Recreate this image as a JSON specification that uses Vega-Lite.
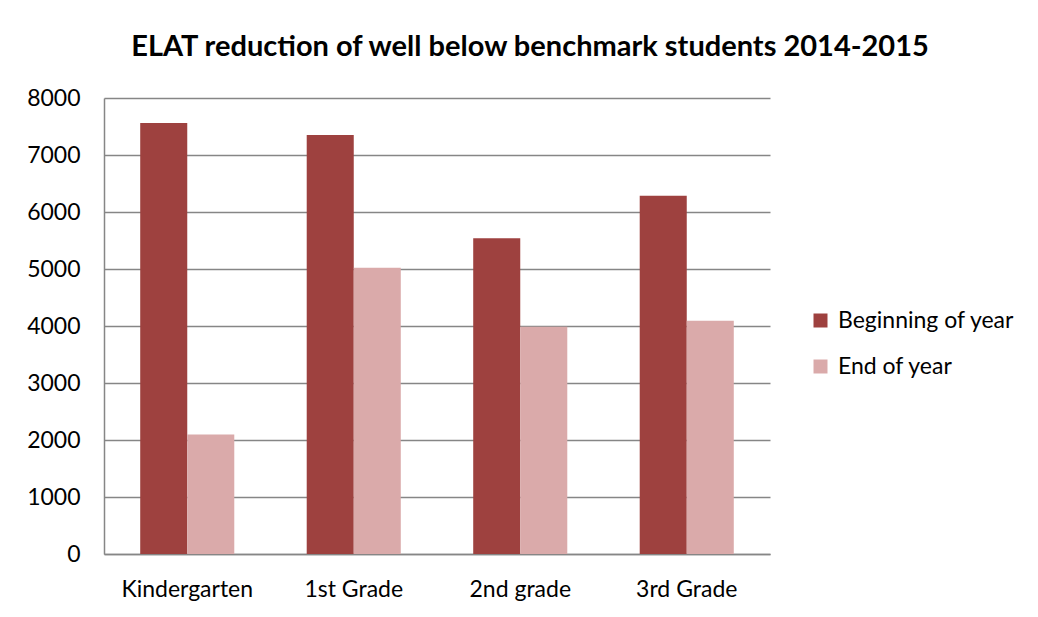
{
  "$schema": "https://vega.github.io/schema/vega-lite/v6.json",
  "autosize": "none",
  "width": 666,
  "height": 456,
  "padding": {"left": 104, "top": 98, "right": 268, "bottom": 63},
  "background": "white",
  "title": {
    "text": "ELAT reduction of well below benchmark students 2014-2015",
    "font": "Lato",
    "fontSize": 29,
    "fontWeight": "bold",
    "color": "#000000",
    "anchor": "middle",
    "dx": 93,
    "offset": 25
  },
  "data": {
    "values": [
      {"grade": "Kindergarten", "period": "Beginning of year", "students": 7560},
      {"grade": "Kindergarten", "period": "End of year", "students": 2095},
      {"grade": "1st Grade", "period": "Beginning of year", "students": 7350},
      {"grade": "1st Grade", "period": "End of year", "students": 5020},
      {"grade": "2nd grade", "period": "Beginning of year", "students": 5540},
      {"grade": "2nd grade", "period": "End of year", "students": 3985},
      {"grade": "3rd Grade", "period": "Beginning of year", "students": 6285},
      {"grade": "3rd Grade", "period": "End of year", "students": 4090}
    ]
  },
  "mark": {"type": "bar"},
  "encoding": {
    "x": {
      "field": "grade",
      "type": "nominal",
      "sort": ["Kindergarten", "1st Grade", "2nd grade", "3rd Grade"],
      "scale": {"paddingInner": 0.435, "paddingOuter": 0.2175},
      "axis": {
        "title": null,
        "labelAngle": 0,
        "labelFont": "Lato",
        "labelFontSize": 23,
        "labelColor": "#000000",
        "labelPadding": 24,
        "ticks": false,
        "domain": true,
        "domainColor": "#868686",
        "domainWidth": 1.5
      }
    },
    "xOffset": {
      "field": "period",
      "type": "nominal",
      "scale": {"paddingInner": 0, "paddingOuter": 0}
    },
    "y": {
      "field": "students",
      "type": "quantitative",
      "scale": {"domain": [0, 8000], "nice": false},
      "axis": {
        "title": null,
        "values": [0, 1000, 2000, 3000, 4000, 5000, 6000, 7000, 8000],
        "format": "d",
        "labelFont": "Lato",
        "labelFontSize": 23,
        "labelColor": "#000000",
        "labelPadding": 24,
        "ticks": false,
        "domain": true,
        "domainColor": "#868686",
        "domainWidth": 1.5,
        "grid": true,
        "gridColor": "#868686",
        "gridWidth": 1.5
      }
    },
    "color": {
      "field": "period",
      "type": "nominal",
      "scale": {"domain": ["Beginning of year", "End of year"], "range": ["#9e413f", "#daaaaa"]},
      "legend": {
        "title": null,
        "orient": "none",
        "legendX": 705,
        "legendY": 211,
        "symbolType": "square",
        "symbolSize": 196,
        "symbolStrokeWidth": 0,
        "labelFont": "Lato",
        "labelFontSize": 23,
        "labelColor": "#000000",
        "labelOffset": 6,
        "labelLimit": 300,
        "rowPadding": 22
      }
    }
  },
  "config": {
    "view": {"stroke": null}
  }
}
